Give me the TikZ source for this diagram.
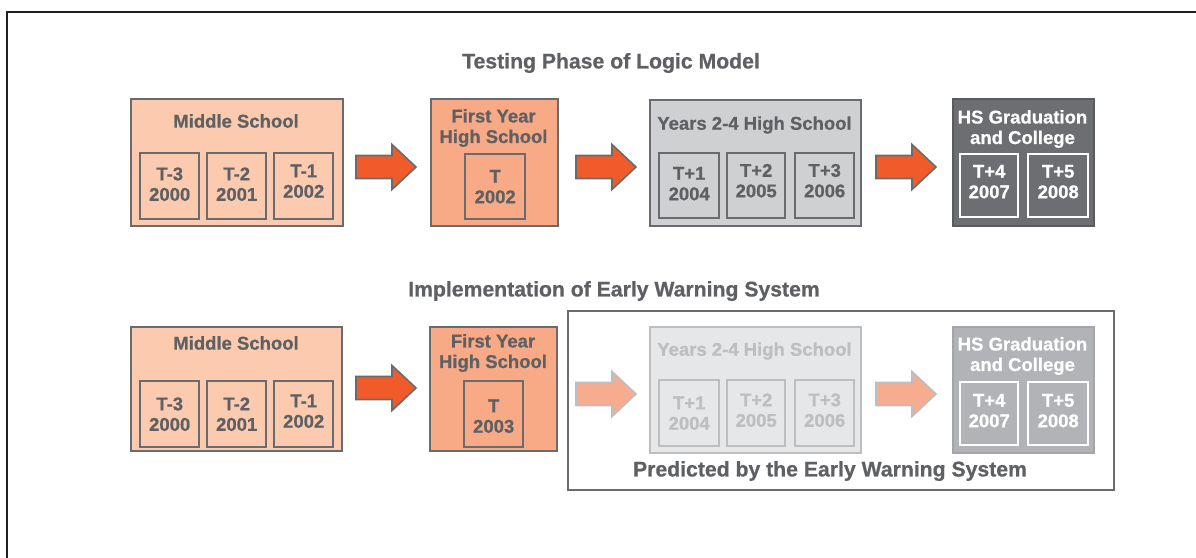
\documentclass[tikz,border=0pt]{standalone}
\usepackage{fontspec}
\setmainfont{Liberation Sans}[BoldFeatures={FakeBold=0.7}]
\definecolor{txtgray}{HTML}{5F6063}
\definecolor{edgegray}{HTML}{6A6B6E}
\definecolor{framedark}{HTML}{231F20}
\definecolor{msfill}{HTML}{FBCAAF}
\definecolor{fyfill}{HTML}{F8A986}
\definecolor{yrfill}{HTML}{CFD0D2}
\definecolor{hsfill}{HTML}{6D6E71}
\definecolor{hsedge}{HTML}{5A5B5E}
\definecolor{arrowred}{HTML}{F15A29}
\definecolor{paleyrfill}{HTML}{E6E7E8}
\definecolor{paleedge}{HTML}{BCBEC0}
\definecolor{palehsfill}{HTML}{B2B3B6}
\definecolor{palehsedge}{HTML}{A4A5A8}
\definecolor{palearrow}{HTML}{F7AC8F}
\begin{document}
\begin{tikzpicture}[x=1pt,y=-1pt,
  box/.style={draw=edgegray,line width=2.4pt,inner sep=0pt,anchor=north west},
  cell/.style={draw=edgegray,line width=2.4pt,fill=none,inner sep=0pt,anchor=north west},
  lbl/.style={text=txtgray,font=\fontsize{18.5}{20.5}\selectfont\bfseries,align=center,inner sep=0pt},
  heading/.style={text=txtgray,font=\fontsize{21.2}{24}\selectfont\bfseries,inner sep=0pt},
  arrowdark/.style={fill=arrowred,draw=edgegray,line width=1.6pt,line join=miter},
  arrowpale/.style={fill=palearrow,draw=paleedge,line width=1.6pt,line join=miter},
  pics/blockarrow/.style={code={
    \path[pic actions] (0,-11.5) -- (36,-11.5) -- (36,-22.5) -- (60,0)
      -- (36,22.5) -- (36,11.5) -- (0,11.5) -- cycle;}}
]
\useasboundingbox (0,0) rectangle (1196,557);
\fill[white] (0,0) rectangle (1196,557);
% outer frame, running off the right and bottom edges
\draw[framedark,line width=2.6pt] (7,580) -- (7,12) -- (1220,12);

% ---------- Testing phase ----------
\node[heading] (h1) at (611,63) {Testing Phase of Logic Model};

\node[box,fill=msfill,minimum width=212,minimum height=127] (ms1) at (130,98) {};
\node[lbl] (ms1t) at (236,121) {Middle School};
\node[cell,minimum width=59,minimum height=66] (ms1a) at (139,152) {};
\node[cell,minimum width=59,minimum height=66] (ms1b) at (206,152) {};
\node[cell,minimum width=59,minimum height=66] (ms1c) at (273,152) {};
\node[lbl] at ([yshift=2]ms1a.center) {T-3\\2000};
\node[lbl] at ([yshift=2]ms1b.center) {T-2\\2001};
\node[lbl] at ([yshift=5]ms1c.center) {T-1\\2002};

\pic[arrowdark] (ar1) at (356,167) {blockarrow};

\node[box,fill=fyfill,minimum width=127,minimum height=127] (fy1) at (430,98) {};
\node[lbl] (fy1t) at (493.5,128) {First Year\\High School};
\node[cell,minimum width=60,minimum height=65] (fy1a) at (464,153) {};
\node[lbl] at ([yshift=0]fy1a.center) {T\\2002};

\pic[arrowdark] (ar2) at (576,167) {blockarrow};

\node[box,fill=yrfill,minimum width=211,minimum height=126] (yr1) at (649,99) {};
\node[lbl] (yr1t) at (754.5,125) {Years 2-4 High School};
\node[cell,minimum width=60,minimum height=65] (yr1a) at (658,152) {};
\node[cell,minimum width=58,minimum height=65] (yr1b) at (726,152) {};
\node[cell,minimum width=59,minimum height=65] (yr1c) at (794,152) {};
\node[lbl] at ([yshift=2]yr1a.center) {T+1\\2004};
\node[lbl] at ([yshift=5]yr1b.center) {T+2\\2005};
\node[lbl] at ([yshift=5]yr1c.center) {T+3\\2006};

\pic[arrowdark] (ar3) at (876,167) {blockarrow};

\node[box,fill=hsfill,draw=hsedge,minimum width=141,minimum height=127] (hs1) at (952,98) {};
\node[lbl,text=white] (hs1t) at (1022.5,129) {HS Graduation\\and College};
\node[cell,draw=white,minimum width=58,minimum height=63] (hs1a) at (959,153) {};
\node[cell,draw=white,minimum width=60,minimum height=63] (hs1b) at (1027,153) {};
\node[lbl,text=white] at ([yshift=4]hs1a.center) {T+4\\2007};
\node[lbl,text=white] at ([yshift=4]hs1b.center) {T+5\\2008};

% ---------- Implementation ----------
\node[heading] (h2) at (614,291) {Implementation of Early Warning System};

\node[draw=edgegray,line width=2.4pt,inner sep=0pt,anchor=north west,
      minimum width=546,minimum height=179] (pred) at (567,310) {};
\node[heading] (predt) at (830,471) {Predicted by the Early Warning System};

\node[box,fill=msfill,minimum width=211,minimum height=124] (ms2) at (130,326) {};
\node[lbl] (ms2t) at (236,343) {Middle School};
\node[cell,minimum width=59,minimum height=66] (ms2a) at (139,380) {};
\node[cell,minimum width=59,minimum height=66] (ms2b) at (206,380) {};
\node[cell,minimum width=59,minimum height=66] (ms2c) at (273,380) {};
\node[lbl] at ([yshift=0]ms2a.center) {T-3\\2000};
\node[lbl] at ([yshift=0]ms2b.center) {T-2\\2001};
\node[lbl] at ([yshift=3]ms2c.center) {T-1\\2002};

\pic[arrowdark] (ar4) at (356,388) {blockarrow};

\node[box,fill=fyfill,minimum width=127,minimum height=124] (fy2) at (429,326) {};
\node[lbl] (fy2t) at (493,353) {First Year\\High School};
\node[cell,minimum width=59,minimum height=66] (fy2a) at (463,380) {};
\node[lbl] at ([yshift=-2]fy2a.center) {T\\2003};

\pic[arrowpale] (ar5) at (576,394) {blockarrow};

\node[box,fill=paleyrfill,draw=paleedge,minimum width=211,minimum height=126] (yr2) at (649,326) {};
\node[lbl,text=paleedge] (yr2t) at (754.5,351) {Years 2-4 High School};
\node[cell,draw=paleedge,minimum width=60,minimum height=66] (yr2a) at (658,379) {};
\node[cell,draw=paleedge,minimum width=58,minimum height=66] (yr2b) at (726,379) {};
\node[cell,draw=paleedge,minimum width=59,minimum height=66] (yr2c) at (794,379) {};
\node[lbl,text=paleedge] at ([yshift=0]yr2a.center) {T+1\\2004};
\node[lbl,text=paleedge] at ([yshift=3]yr2b.center) {T+2\\2005};
\node[lbl,text=paleedge] at ([yshift=3]yr2c.center) {T+3\\2006};

\pic[arrowpale] (ar6) at (876,394) {blockarrow};

\node[box,fill=palehsfill,draw=palehsedge,minimum width=141,minimum height=126] (hs2) at (952,326) {};
\node[lbl,text=white] (hs2t) at (1022.5,356) {HS Graduation\\and College};
\node[cell,draw=white,minimum width=58,minimum height=63] (hs2a) at (959,381) {};
\node[cell,draw=white,minimum width=60,minimum height=63] (hs2b) at (1027,381) {};
\node[lbl,text=white] at ([yshift=3]hs2a.center) {T+4\\2007};
\node[lbl,text=white] at ([yshift=3]hs2b.center) {T+5\\2008};
\end{tikzpicture}
\end{document}
